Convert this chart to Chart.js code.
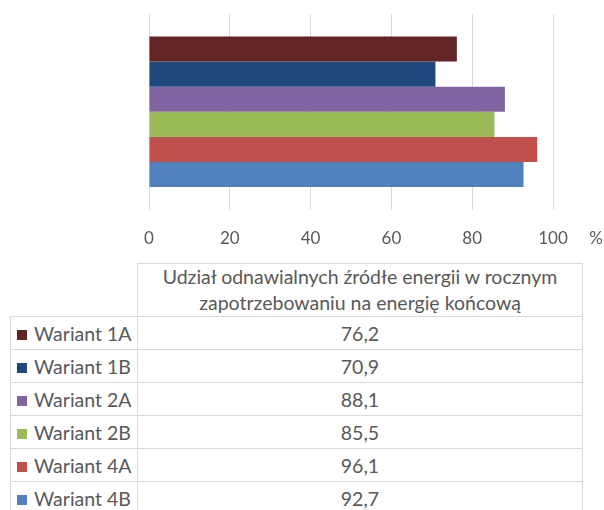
<!DOCTYPE html>
<html>
<head>
<meta charset="utf-8">
<script src="https://cdn.jsdelivr.net/npm/chart.js@4"></script>
<style>
  body { margin: 0; background: #fff; font-family: Lato, sans-serif; }
  #wrap { position: relative; width: 604px; height: 510px; overflow: hidden; }
  #chartBox { position: absolute; left: 0; top: 0; width: 604px; height: 268px; }
  #dataTable { position: absolute; left: 10px; top: 263px; border-collapse: collapse; color: #595959; font-size: 19.5px; background: #fff; }
  #dataTable td, #dataTable th { border: 1px solid #d9d9d9; padding: 0; font-weight: normal; }
  #dataTable th { height: 52px; line-height: 26px; text-align: center; }
  #dataTable td { height: 32px; }
  #dataTable td.lbl { width: 120px; white-space: nowrap; padding-left: 6px; }
  #dataTable td.val { width: 444px; text-align: center; }
  #dataTable .blank { border: none; border-right: 1px solid #d9d9d9; border-bottom: 1px solid #d9d9d9; }
  .key { display: inline-block; width: 10px; height: 10px; margin-right: 7px; vertical-align: 1px; }
</style>
</head>
<body>
<div id="wrap">
  <div id="chartBox"><canvas id="renewChart"></canvas></div>
  <table id="dataTable"></table>
</div>
<script>
const variants = ['Wariant 1A', 'Wariant 1B', 'Wariant 2A', 'Wariant 2B', 'Wariant 4A', 'Wariant 4B'];
const shares = [76.2, 70.9, 88.1, 85.5, 96.1, 92.7];
const colors = ['#632523', '#1f497d', '#8064a2', '#9bbb59', '#c0504d', '#4f81bd'];
const headerLines = ['Udział odnawialnych źródłe energii w rocznym', 'zapotrzebowaniu na energię końcową'];

const grey = '#595959';

// "%" next to the last tick label
const percentSign = {
    id: 'percentSign',
    afterDraw(chart) {
        const x = chart.scales.x;
        const c = chart.ctx;
        c.save();
        c.fillStyle = grey;
        c.font = '17px Lato';
        c.textAlign = 'center';
        c.textBaseline = 'middle';
        c.fillText('%', x.right + 43, x.top + 19 + 10.2);
        c.restore();
    }
};

const ctx = document.getElementById('renewChart').getContext('2d');
const renewChart = new Chart(ctx, {
    type: 'bar',
    data: {
        labels: [''],
        datasets: variants.map((v, i) => ({
            label: v,
            data: [shares[i]],
            backgroundColor: colors[i],
            categoryPercentage: 0.77,
            barPercentage: 1.0
        }))
    },
    options: {
        indexAxis: 'y',
        responsive: true,
        maintainAspectRatio: false,
        animation: false,
        layout: { padding: { left: 149, right: 51, top: 14, bottom: 0 } },
        plugins: { legend: { display: false }, tooltip: { enabled: false } },
        scales: {
            x: {
                min: 0,
                max: 100,
                ticks: { stepSize: 20, color: grey, padding: 19, font: { family: 'Lato', size: 17 } },
                grid: { color: '#d9d9d9', drawTicks: false },
                border: { display: false }
            },
            y: { display: false }
        }
    },
    plugins: [percentSign]
});

// data table under the chart
const table = document.getElementById('dataTable');
let html = '<tr><th class="blank"></th><th>' + headerLines.join('<br>') + '</th></tr>';
variants.forEach((v, i) => {
    html += '<tr><td class="lbl"><span class="key" style="background:' + colors[i] + '"></span>' + v +
        '</td><td class="val">' + shares[i].toFixed(1).replace('.', ',') + '</td></tr>';
});
table.innerHTML = html;
</script>
</body>
</html>
